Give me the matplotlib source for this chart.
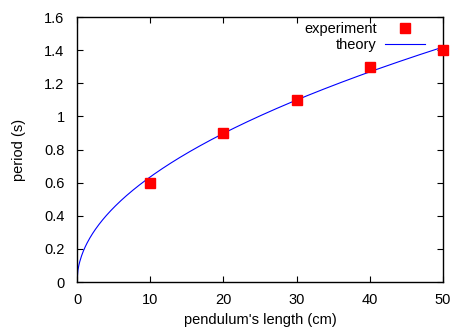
import numpy as np
import matplotlib
matplotlib.use('Agg')
import matplotlib.pyplot as plt

plt.rcParams['font.family'] = ['Liberation Sans', 'DejaVu Sans']

length_cm = [10, 20, 30, 40, 50]
period_s = [0.6, 0.9, 1.1, 1.3, 1.4]
g = 9.81  # theory: T = 2*pi*sqrt(L/g)

L = np.linspace(0, 50, 400)
T = 2 * np.pi * np.sqrt(L / 100.0 / g)

fig = plt.figure(figsize=(4.67, 3.27), dpi=100)
ax = fig.add_axes([0.1649, 0.1376, 0.9486 - 0.1649, 0.948 - 0.1376])

ax.plot(length_cm, period_s, 's', color='red', markersize=7, label='experiment', clip_on=False, zorder=3)
ax.plot(L, T, '-', color='blue', linewidth=0.8, label='theory')

ax.set_xlim(0, 50)
ax.set_ylim(0, 1.6)
ax.set_xticks([0, 10, 20, 30, 40, 50])
ax.set_yticks(np.arange(0, 1.61, 0.2))
ax.set_yticklabels(['0', '0.2', '0.4', '0.6', '0.8', '1', '1.2', '1.4', '1.6'])
ax.tick_params(direction='in', top=True, right=True, labelsize=10.5, length=4)
ax.tick_params(axis='x', pad=8)
ax.tick_params(axis='y', pad=9)
for s in ax.spines.values():
    s.set_linewidth(1)

ax.set_xlabel("pendulum's length (cm)", fontsize=10.5, labelpad=4)
ax.set_ylabel('period (s)', fontsize=10.5, labelpad=13)

ax.legend(loc='upper right', frameon=False, markerfirst=False, fontsize=10.5,
          handlelength=2.75, handletextpad=0.55, labelspacing=0.1,
          borderpad=0, bbox_to_anchor=(432 / 467, 1 - 15 / 327),
          bbox_transform=fig.transFigure)

fig.savefig('out.png', dpi=100)
